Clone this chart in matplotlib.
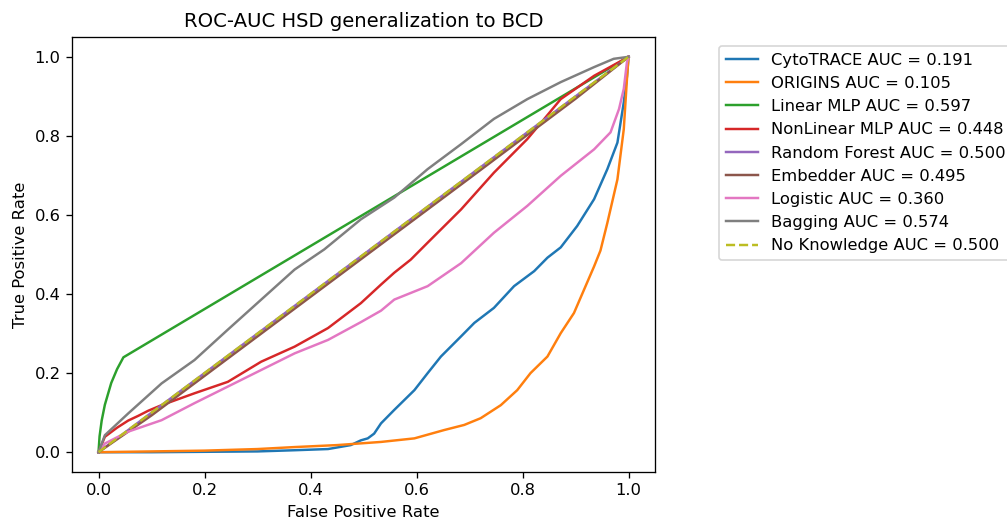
#!/usr/bin/env python3

import matplotlib
matplotlib.use('Agg')
import matplotlib.pyplot as plt
import numpy as np

# ROC curves (false positive rate, true positive rate) per model
cyto_fpr = [0.0, 0.1, 0.2, 0.3, 0.37, 0.433, 0.476, 0.495, 0.508, 0.52, 0.533, 0.558, 0.596, 0.621, 0.646,
            0.684, 0.709, 0.746, 0.784, 0.822, 0.847, 0.872, 0.903, 0.935, 0.96, 0.979, 0.991, 0.997, 1.0]
cyto_tpr = [0.0, 0.0, 0.001, 0.002, 0.005, 0.008, 0.018, 0.03, 0.035, 0.047, 0.073, 0.107, 0.157, 0.2, 0.242,
            0.293, 0.327, 0.365, 0.42, 0.458, 0.492, 0.518, 0.572, 0.64, 0.716, 0.783, 0.885, 0.95, 1.0]

origins_fpr = [0.0, 0.1, 0.2, 0.3, 0.37, 0.45, 0.533, 0.596, 0.652, 0.69, 0.721, 0.759, 0.79, 0.815, 0.847,
               0.872, 0.897, 0.916, 0.935, 0.947, 0.96, 0.979, 0.991, 0.997, 1.0]
origins_tpr = [0.0, 0.002, 0.004, 0.008, 0.013, 0.018, 0.026, 0.035, 0.056, 0.069, 0.086, 0.119, 0.157, 0.2, 0.242,
               0.301, 0.352, 0.411, 0.47, 0.51, 0.58, 0.69, 0.817, 0.944, 1.0]

linear_fpr = [0.0, 0.002, 0.006, 0.012, 0.024, 0.035, 0.047, 1.0]
linear_tpr = [0.0, 0.04, 0.08, 0.12, 0.175, 0.21, 0.24, 1.0]

nonlinear_fpr = [0.0, 0.012, 0.035, 0.056, 0.075, 0.094, 0.119, 0.181, 0.244, 0.307, 0.37, 0.433, 0.495, 0.533,
                 0.558, 0.589, 0.621, 0.684, 0.746, 0.809, 0.841, 0.872, 0.935, 1.0]
nonlinear_tpr = [0.0, 0.039, 0.062, 0.08, 0.092, 0.105, 0.119, 0.149, 0.178, 0.229, 0.267, 0.314, 0.377, 0.424,
                 0.454, 0.487, 0.53, 0.614, 0.707, 0.792, 0.843, 0.893, 0.952, 1.0]

forest_fpr = [0.0, 1.0]
forest_tpr = [0.0, 1.0]

embedder_fpr = [0.0, 0.1, 0.3, 0.5, 0.7, 0.9, 1.0]
embedder_tpr = [0.0, 0.093, 0.293, 0.493, 0.693, 0.894, 1.0]

logistic_fpr = [0.0, 0.012, 0.056, 0.119, 0.181, 0.244, 0.307, 0.37, 0.433, 0.495, 0.533, 0.558, 0.621, 0.684,
                0.746, 0.809, 0.872, 0.935, 0.966, 0.982, 0.991, 0.997, 1.0]
logistic_tpr = [0.0, 0.022, 0.052, 0.081, 0.124, 0.166, 0.208, 0.25, 0.284, 0.329, 0.358, 0.386, 0.42, 0.478,
                0.555, 0.623, 0.699, 0.766, 0.809, 0.868, 0.919, 0.987, 1.0]

bagging_fpr = [0.0, 0.012, 0.056, 0.119, 0.181, 0.244, 0.307, 0.37, 0.426, 0.495, 0.558, 0.621, 0.684, 0.746,
               0.809, 0.872, 0.935, 0.972, 1.0]
bagging_tpr = [0.0, 0.043, 0.098, 0.174, 0.233, 0.31, 0.386, 0.462, 0.513, 0.589, 0.644, 0.716, 0.779, 0.843,
               0.893, 0.936, 0.974, 0.995, 1.0]

chance_fpr = [0.0, 1.0]
chance_tpr = [0.0, 1.0]

names = ['CytoTRACE', 'ORIGINS', 'Linear MLP', 'NonLinear MLP', 'Random Forest', 'Embedder', 'Logistic', 'Bagging']
aucs = [0.191, 0.105, 0.597, 0.448, 0.500, 0.495, 0.360, 0.574]
curves = [(cyto_fpr, cyto_tpr), (origins_fpr, origins_tpr), (linear_fpr, linear_tpr),
          (nonlinear_fpr, nonlinear_tpr), (forest_fpr, forest_tpr), (embedder_fpr, embedder_tpr),
          (logistic_fpr, logistic_tpr), (bagging_fpr, bagging_tpr)]

dpi = 118
fig = plt.figure(figsize=(1007 / dpi, 519 / dpi), dpi=dpi)
ax = fig.add_axes([0.0715, 0.0906, 0.579, 0.838])

for name, auc, (fpr, tpr) in zip(names, aucs, curves):
    ax.plot(fpr, tpr, label='{} AUC = {:.3f}'.format(name, auc))
ax.plot(chance_fpr, chance_tpr, '--', label='No Knowledge AUC = {:.3f}'.format(0.5))

ax.set_title('ROC-AUC HSD generalization to BCD')
ax.set_xlabel('False Positive Rate')
ax.set_ylabel('True Positive Rate')
ax.legend(loc='upper left', bbox_to_anchor=(0.714, 0.911), bbox_transform=fig.transFigure, borderaxespad=0)

fig.savefig('out.png', dpi=dpi)
